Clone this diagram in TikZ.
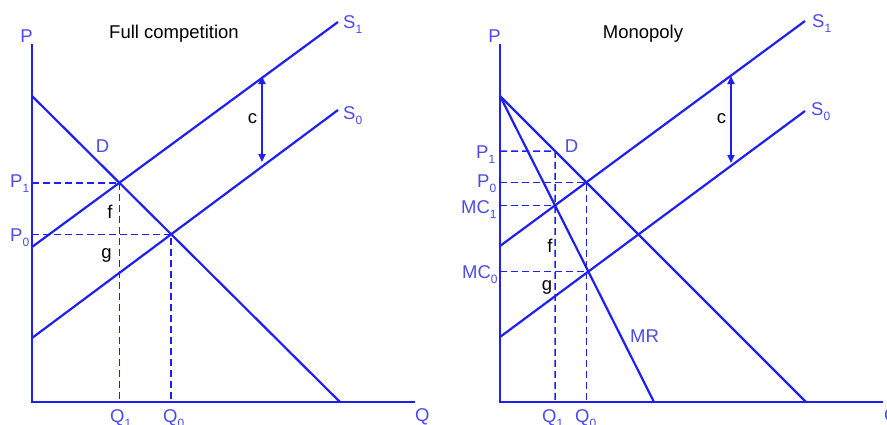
\documentclass[tikz,border=0pt]{standalone}
\usepackage{fontspec}
\setmainfont{Liberation Sans}
\usetikzlibrary{arrows.meta}
\definecolor{LineBlue}{HTML}{1F1FF0}
\definecolor{LabelBlue}{HTML}{4B4BF0}
\newcommand{\lsub}[1]{\raisebox{-5pt}{\fontsize{12}{12}\selectfont #1}}

\begin{document}
\begin{tikzpicture}[x=1pt, y=-1pt,
  curve/.style={LineBlue, line width=2.2pt},
  guide/.style={LineBlue, line width=1.5pt, dash pattern=on 7pt off 4pt},
  arr/.style={{Triangle[length=8pt,width=7pt]}-{Triangle[length=8pt,width=7pt]}, LineBlue, line width=1.8pt},
  lab/.style={LabelBlue, font=\fontsize{18.5}{22}\selectfont, inner sep=0pt},
  blk/.style={black, font=\fontsize{18.5}{22}\selectfont, inner sep=0pt}
]
\useasboundingbox (0,0) rectangle (887,424);

% full competition
\coordinate (O1) at (32,402);
\coordinate (PL) at (32,44);
\coordinate (QL) at (415,402);
\coordinate (DLa) at (32,96);
\coordinate (DLb) at (340,402);
\coordinate (S1La) at (32,247);
\coordinate (S1Lb) at (338,22);
\coordinate (S0La) at (32,338);
\coordinate (S0Lb) at (338,110);
\coordinate (EL1) at (intersection of DLa--DLb and S1La--S1Lb);
\coordinate (EL0) at (intersection of DLa--DLb and S0La--S0Lb);
\coordinate (cLt) at (262,76);
\coordinate (cLb) at (262,162);

\draw[guide] (O1 |- EL1) -- (EL1) -- (EL1 |- O1);
\draw[guide] (O1 |- EL0) -- (EL0) -- (EL0 |- O1);
\draw[curve] (PL) -- (O1) -- (QL);
\draw[curve] (DLa) -- (DLb);
\draw[curve] (S1La) -- (S1Lb);
\draw[curve] (S0La) -- (S0Lb);
\draw[arr] (cLb) -- (cLt);

\node[blk, anchor=base] (titleL) at (174,38) {Full competition};
\node[lab, anchor=base] (pL) at (26.5,42) {P};
\node[lab, anchor=base west] (qL) at (415,421) {Q};
\node[lab, anchor=base west] (s1L) at (343,28) {S\lsub{1}};
\node[lab, anchor=base west] (s0L) at (343,119) {S\lsub{0}};
\node[lab, anchor=base] (dL) at (102.5,152) {D};
\node[lab, anchor=base west] (p1L) at (10,187) {P\lsub{1}};
\node[lab, anchor=base west] (p0L) at (10,241) {P\lsub{0}};
\node[lab, anchor=base west] (q1L) at (110,422) {Q\lsub{1}};
\node[lab, anchor=base west] (q0L) at (163,422) {Q\lsub{0}};
\node[blk, anchor=base] (cL) at (252.5,123) {c};
\node[blk, anchor=base] (fL) at (110,218) {f};
\node[blk, anchor=base] (gL) at (106.5,258) {g};

% monopoly
\coordinate (O2) at (500,402);
\coordinate (PR) at (500,44);
\coordinate (QR) at (883,402);
\coordinate (DRa) at (500,96);
\coordinate (DRb) at (806,402);
\coordinate (MRb) at (654,402);
\coordinate (S1Ra) at (500,246);
\coordinate (S1Rb) at (805,21);
\coordinate (S0Ra) at (500,337);
\coordinate (S0Rb) at (805,111);
\coordinate (ER0) at (intersection of DRa--DRb and S1Ra--S1Rb);
\coordinate (ER1) at (intersection of DRa--MRb and S1Ra--S1Rb);
\coordinate (ER2) at (intersection of DRa--MRb and S0Ra--S0Rb);
\coordinate (ER1q) at (ER1 |- O2);
\coordinate (PR1) at (intersection of DRa--DRb and ER1--ER1q);
\coordinate (cRt) at (731,76);
\coordinate (cRb) at (731,163);

\draw[guide] (O2 |- PR1) -- (PR1) -- (ER1q);
\draw[guide] (O2 |- ER0) -- (ER0) -- (ER0 |- O2);
\draw[guide] (O2 |- ER1) -- (ER1);
\draw[guide] (O2 |- ER2) -- (ER2);
\draw[curve] (PR) -- (O2) -- (QR);
\draw[curve] (DRa) -- (DRb);
\draw[curve] (DRa) -- (MRb);
\draw[curve] (S1Ra) -- (S1Rb);
\draw[curve] (S0Ra) -- (S0Rb);
\draw[arr] (cRb) -- (cRt);

\node[blk, anchor=base] (titleR) at (643,38) {Monopoly};
\node[lab, anchor=base] (pR) at (494.5,42) {P};
\node[lab, anchor=base west] (qR) at (884,421) {Q};
\node[lab, anchor=base west] (s1R) at (812,27) {S\lsub{1}};
\node[lab, anchor=base west] (s0R) at (811,115) {S\lsub{0}};
\node[lab, anchor=base] (dR) at (571.5,152) {D};
\node[lab, anchor=base west] (mrR) at (630,342) {MR};
\node[lab, anchor=base west] (p1R) at (476,158) {P\lsub{1}};
\node[lab, anchor=base west] (p0R) at (477,187) {P\lsub{0}};
\node[lab, anchor=base west] (mc1R) at (461,213) {MC\lsub{1}};
\node[lab, anchor=base west] (mc0R) at (462,278) {MC\lsub{0}};
\node[lab, anchor=base west] (q1R) at (542,422) {Q\lsub{1}};
\node[lab, anchor=base west] (q0R) at (575,422) {Q\lsub{0}};
\node[blk, anchor=base] (cR) at (721.5,123) {c};
\node[blk, anchor=base] (fR) at (550,252) {f};
\node[blk, anchor=base] (gR) at (547,290) {g};
\end{tikzpicture}
\end{document}
